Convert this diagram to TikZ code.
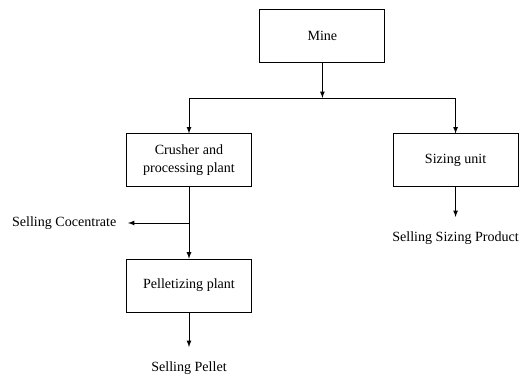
\documentclass[tikz,border=0pt]{standalone}
\usepackage{fontspec}
\setmainfont{Liberation Serif}
\usepackage{tikz}
\usetikzlibrary{arrows, calc, positioning}

\begin{document}
\begin{tikzpicture}[>=latex, line width=0.6pt,
                    stage/.style={draw, minimum width=3.125cm, minimum height=1.325cm, align=center, font=\fontsize{10}{12.8}\selectfont},
                    outlet/.style={inner xsep=8pt, inner ysep=10pt, font=\fontsize{10}{12}\selectfont}]
                        \useasboundingbox (0, 0) rectangle (13.15, -9.45);

                        \node[stage] (mine) at (8.06, -0.89) {Mine};
                        \node[stage] (crusher) at (4.725, -4.01) {Crusher and\\processing plant};
                        \node[stage] (sizing) at (11.39, -4.01) {Sizing unit};
                        \node[stage] (pellet) at (4.725, -7.14) {Pelletizing plant};

                        \coordinate (split) at (8.06, -2.45);
                        \coordinate (tap) at (4.725, -5.575);

                        \node[outlet, anchor=east] (conc) at (3.2, -5.575) {Selling Cocentrate};
                        \node[outlet, anchor=north] (pel) at (4.725, -8.675) {Selling Pellet};
                        \node[outlet, anchor=north] (sprod) at (11.39, -5.425) {Selling Sizing Product};

                        \draw
                        (mine) edge[->] (split)
                        (crusher) edge (tap)
                        (tap) edge[->] (pellet)
                        (tap) edge[->] (conc)
                        (pellet) edge[->] (pel)
                        (sizing) edge[->] (sprod);
                        \draw[->] (split) -| (crusher);
                        \draw[->] (split) -| (sizing);
                    \end{tikzpicture}
\end{document}
